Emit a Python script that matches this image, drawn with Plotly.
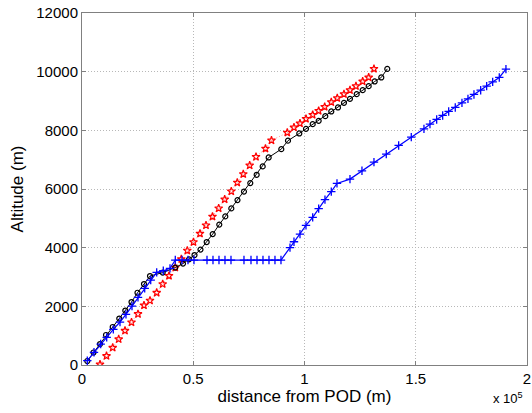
import plotly.graph_objects as go

# Red series (stars, dotted line)
red_x = [8090, 11010, 13800, 16490, 19320, 22250, 25170, 27860, 30560, 33570, 36270, 39100,
         41930, 44630, 47320, 50110, 53030, 55730, 58650, 61430, 64130, 67100, 69790, 72490,
         75360, 78200, 82460, 85160, 92260, 95270, 97970, 100670, 103680, 106370, 109070,
         112040, 114730, 117740, 120440, 123130, 126150, 128840, 131220]
red_y = [20, 307, 589, 879, 1168, 1455, 1738, 2034, 2198, 2463, 2760, 3039,
         3322, 3611, 3901, 4191, 4480, 4763, 5059, 5342, 5645, 5921, 6218, 6507,
         6804, 7097, 7376, 7656, 7921, 8098, 8235, 8391, 8528, 8664, 8800,
         8960, 9097, 9233, 9369, 9506, 9666, 9802, 10095]

# Black series (circles, solid line)
blk_x = [2380, 5170, 8090, 10790, 13800, 16760, 19460, 22250, 24940, 27860, 30560, 36270,
         41930, 45390, 48090, 50560, 53250, 56040, 58740, 61700, 64400, 67100, 69880, 72800,
         75630, 78510, 81210, 83900, 89570, 92580, 97660, 100670, 103680, 106370, 109340,
         112040, 115050, 117740, 120440, 123450, 126150, 128840, 131540, 134510, 137200]
blk_y = [136, 426, 715, 1022, 1295, 1584, 1857, 2146, 2463, 2760, 3032, 3151,
         3322, 3458, 3601, 3748, 3935, 4191, 4463, 4787, 5066, 5338, 5622, 5911,
         6201, 6484, 6770, 7076, 7359, 7649, 7894, 8051, 8211, 8323, 8483,
         8644, 8780, 8937, 9073, 9233, 9369, 9506, 9666, 9802, 10095]

# Blue series (plus markers, solid line)
blu_x = [2380, 5390, 8400, 11100, 14070, 17080, 19770, 22470, 25170, 28180, 30880, 33570,
         36540, 39550, 41930, 44940, 47640, 50330, 56180, 58870, 61570, 64260, 66960, 72800,
         75950, 78650, 81340, 84040, 86730, 89430, 93480, 95270, 97970, 100670, 103680,
         106370, 109200, 112040, 114600, 120440, 125830, 131220, 136750, 142320, 147990,
         153690, 156390, 159400, 162100, 164800, 167760, 170770, 173470, 176160, 179180,
         181870, 184570, 187540, 190540]
blu_y = [146, 433, 715, 943, 1216, 1465, 1727, 2010, 2306, 2613, 2896, 3158,
         3213, 3295, 3577, 3577, 3577, 3577, 3577, 3577, 3577, 3577, 3577, 3577,
         3577, 3577, 3577, 3577, 3577, 3577, 4003, 4201, 4463, 4760, 5032,
         5332, 5638, 5911, 6191, 6337, 6620, 6916, 7189, 7485, 7768,
         8051, 8211, 8371, 8507, 8643, 8780, 8937, 9073, 9223, 9369,
         9506, 9652, 9802, 10085]

x_tickvals = [0, 50000, 100000, 150000, 200000]
x_ticktext = ["0", "0.5", "1", "1.5", "2"]
y_tickvals = [0, 2000, 4000, 6000, 8000, 10000, 12000]
y_ticktext = ["0", "2000", "4000", "6000", "8000", "10000", "12000"]

fig = go.Figure()
fig.add_trace(go.Scatter(x=red_x, y=red_y, mode="lines+markers",
                         line=dict(color="rgba(255,80,80,0.6)", width=1, dash="1px,2px"),
                         marker=dict(symbol="star-open", size=6, color="red",
                                     line=dict(width=1.2, color="red"))))
fig.add_trace(go.Scatter(x=blk_x, y=blk_y, mode="lines+markers",
                         line=dict(color="black", width=1),
                         marker=dict(symbol="circle-open", size=5, color="black",
                                     line=dict(width=1.2, color="black"))))
fig.add_trace(go.Scatter(x=blu_x, y=blu_y, mode="lines+markers",
                         line=dict(color="blue", width=1.2),
                         marker=dict(symbol="cross-thin-open", size=6, color="blue",
                                     line=dict(width=1.3, color="blue"))))

axis_common = dict(showline=True, linecolor="#808080", linewidth=1, mirror="ticks",
                   ticks="inside", ticklen=4, tickcolor="#808080",
                   showgrid=True, gridcolor="#b8b8b8", griddash="1px,2px", gridwidth=1,
                   zeroline=False, automargin=False, ticklabeloverflow="allow",
                   tickfont=dict(size=15, color="black"))

fig.update_xaxes(range=[0, 200000], tickvals=x_tickvals, ticktext=x_ticktext,
                 title=dict(text="distance from POD (m)", font=dict(size=17, color="black"),
                            standoff=2),
                 **axis_common)
fig.update_yaxes(range=[0, 12000], tickvals=y_tickvals, ticktext=y_ticktext,
                 title=dict(text="Altitude (m)", font=dict(size=17, color="black"),
                            standoff=8),
                 **axis_common)

fig.add_annotation(text="x 10<sup>5</sup>", xref="paper", yref="paper",
                   x=0.957, y=-0.094, xanchor="center", yanchor="middle", showarrow=False,
                   font=dict(size=13, color="black"))

fig.update_layout(width=532, height=413, margin=dict(l=82, r=5, t=13, b=48),
                  paper_bgcolor="white", plot_bgcolor="white", showlegend=False,
                  font=dict(family="Liberation Sans, Arial, sans-serif", color="black"))

fig.write_html("out.html", config={"displayModeBar": False},
               post_script="document.body.style.margin='0';document.body.style.overflow='hidden';")
